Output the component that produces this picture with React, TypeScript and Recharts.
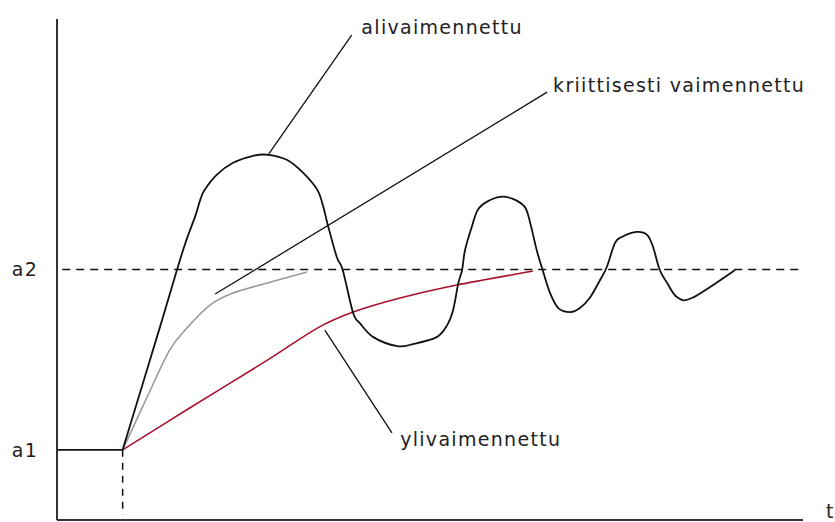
import { LineChart, Line, XAxis, YAxis, ReferenceLine, ReferenceDot } from "recharts";

// step response of a second order system: input jumps from a1 to a2 at stepTime
const stepTime = 8.8;
const levelValues = [14, 50];
const levelNames = ["a1", "a2"];

// level before the step
const restT = [0, 8.8];
const restY = [14, 14];

const underdampedT = [
  8.8, 13.8, 16.9, 18.5, 19.2, 19.8, 21.4, 23.6, 26.3, 28.3, 30.8, 33.0, 34.9, 35.7, 36.3,
  37.5, 38.3, 39.7, 40.6, 42.4, 45.6, 47.7, 50.9, 52.3, 53.1, 53.8, 54.3, 54.7, 55.6, 56.4,
  57.6, 59.4, 61.1, 62.7, 63.4, 64.3, 65.1, 66.1, 67.2, 68.8, 70.1, 71.4, 72.8, 73.7, 74.8,
  75.7, 77.7, 79.1, 79.9, 80.8, 81.8, 83.1, 85.1, 90.9,
];
const underdampedY = [
  14, 38.5, 53.9, 60.5, 63.9, 65.9, 68.9, 71.3, 72.7, 72.9, 71.9, 69.3, 65.9, 62.5, 58.9,
  52.5, 49.9, 41.3, 39.3, 36.5, 34.7, 35.1, 36.5, 38.9, 41.9, 47.3, 49.9, 53.9, 58.5, 61.9,
  63.5, 64.5, 64.1, 62.5, 59.5, 53.9, 49.9, 45.3, 42.3, 41.5, 42.3, 44.3, 47.9, 50.5, 55.3,
  56.5, 57.5, 56.9, 54.5, 49.9, 47.3, 44.5, 44.3, 49.9,
];

const criticalT = [8.8, 12.1, 15.1, 17.4, 20.5, 23.6, 28.2, 33.5];
const criticalY = [14, 24.6, 33.9, 38.3, 42.9, 45.3, 47.3, 49.5];

const overdampedT = [8.8, 17.4, 28.2, 34.9, 39.7, 46.0, 53.6, 63.8];
const overdampedY = [14, 22.0, 31.9, 38.3, 41.5, 44.3, 46.9, 49.7];

const callouts = [
  { text: "alivaimennettu", from: { t: 28.3, y: 72.9 }, to: { t: 39.5, y: 96.8 }, at: { t: 40.8, y: 97.0 } },
  { text: "kriittisesti vaimennettu", from: { t: 21.2, y: 45.1 }, to: { t: 65.7, y: 85.4 }, at: { t: 66.5, y: 85.4 } },
  { text: "ylivaimennettu", from: { t: 35.9, y: 37.9 }, to: { t: 44.9, y: 17.4 }, at: { t: 46.0, y: 14.8 } },
];

const toPoints = (ts: number[], ys: number[]) => ts.map((t, i) => ({ t, y: ys[i] }));

// uniform Catmull-Rom through every point, as a d3-style curve factory
const smoothCurve = (context: any) => {
  let pts: number[][] = [];
  return {
    areaStart() {},
    areaEnd() {},
    lineStart() {
      pts = [];
    },
    point(x: number, y: number) {
      pts.push([+x, +y]);
    },
    lineEnd() {
      if (!pts.length) return;
      context.moveTo(pts[0][0], pts[0][1]);
      for (let i = 0; i < pts.length - 1; i++) {
        const p0 = pts[i - 1] || pts[i];
        const p1 = pts[i];
        const p2 = pts[i + 1];
        const p3 = pts[i + 2] || p2;
        context.bezierCurveTo(
          p1[0] + (p2[0] - p0[0]) / 6,
          p1[1] + (p2[1] - p0[1]) / 6,
          p2[0] - (p3[0] - p1[0]) / 6,
          p2[1] - (p3[1] - p1[1]) / 6,
          p2[0],
          p2[1]
        );
      }
    },
  };
};

const font = "DejaVu Sans";
const textColor = "#222";

const LevelTick = ({ y, payload }: any) => (
  <text x={25} y={y} dy="0.35em" textAnchor="middle" fontFamily={font} fontSize={19} letterSpacing={1.3} fill={textColor}>
    {levelNames[levelValues.indexOf(payload.value)]}
  </text>
);

const calloutText = (text: string) => ({ viewBox }: any) => (
  <text x={viewBox.x} y={viewBox.y} fontFamily={font} fontSize={19} letterSpacing={1.3} fill={textColor}>
    {text}
  </text>
);

export default function App() {
  return (
    <div style={{ position: "absolute", left: 0, top: 0 }}>
      <LineChart width={835} height={522} margin={{ top: 19, right: 32, bottom: 0, left: 0 }}>
        <XAxis
          type="number"
          dataKey="t"
          domain={[0, 100]}
          height={2}
          tick={false}
          tickLine={false}
          axisLine={{ stroke: "#333", strokeWidth: 2 }}
          label={{
            content: ({ viewBox }: any) => (
              <text x={viewBox.x + viewBox.width + 23} y={viewBox.y - 2} fontFamily={font} fontSize={19} fill={textColor}>
                t
              </text>
            ),
          }}
        />
        <YAxis
          type="number"
          dataKey="y"
          domain={[0, 100]}
          width={57}
          ticks={levelValues}
          tickLine={false}
          tick={<LevelTick />}
          axisLine={{ stroke: "#333", strokeWidth: 2 }}
        />

        <ReferenceLine segment={[{ x: 0.7, y: levelValues[1] }, { x: 99.8, y: levelValues[1] }]} stroke="#111" strokeWidth={1.5} strokeDasharray="8 6" />
        <ReferenceLine segment={[{ x: stepTime, y: levelValues[0] }, { x: stepTime, y: 1 }]} stroke="#111" strokeWidth={1.5} strokeDasharray="7 6" />

        {callouts.map((c) => (
          <ReferenceLine key={c.text} segment={[{ x: c.from.t, y: c.from.y }, { x: c.to.t, y: c.to.y }]} stroke="#111" strokeWidth={1.3} />
        ))}
        {callouts.map((c) => (
          <ReferenceDot key={c.text + "-label"} x={c.at.t} y={c.at.y} r={0} stroke="none" label={{ content: calloutText(c.text) }} />
        ))}

        <Line data={toPoints(overdampedT, overdampedY)} dataKey="y" type={smoothCurve as any} stroke="#a8102e" strokeWidth={1.6} dot={false} activeDot={false} isAnimationActive={false} />
        <Line data={toPoints(criticalT, criticalY)} dataKey="y" type={smoothCurve as any} stroke="#9a9a9a" strokeWidth={1.6} dot={false} activeDot={false} isAnimationActive={false} />
        <Line data={toPoints(restT, restY)} dataKey="y" type="linear" stroke="#111" strokeWidth={1.8} dot={false} activeDot={false} isAnimationActive={false} />
        <Line data={toPoints(underdampedT, underdampedY)} dataKey="y" type={smoothCurve as any} stroke="#111" strokeWidth={1.8} dot={false} activeDot={false} isAnimationActive={false} />
      </LineChart>
    </div>
  );
}
